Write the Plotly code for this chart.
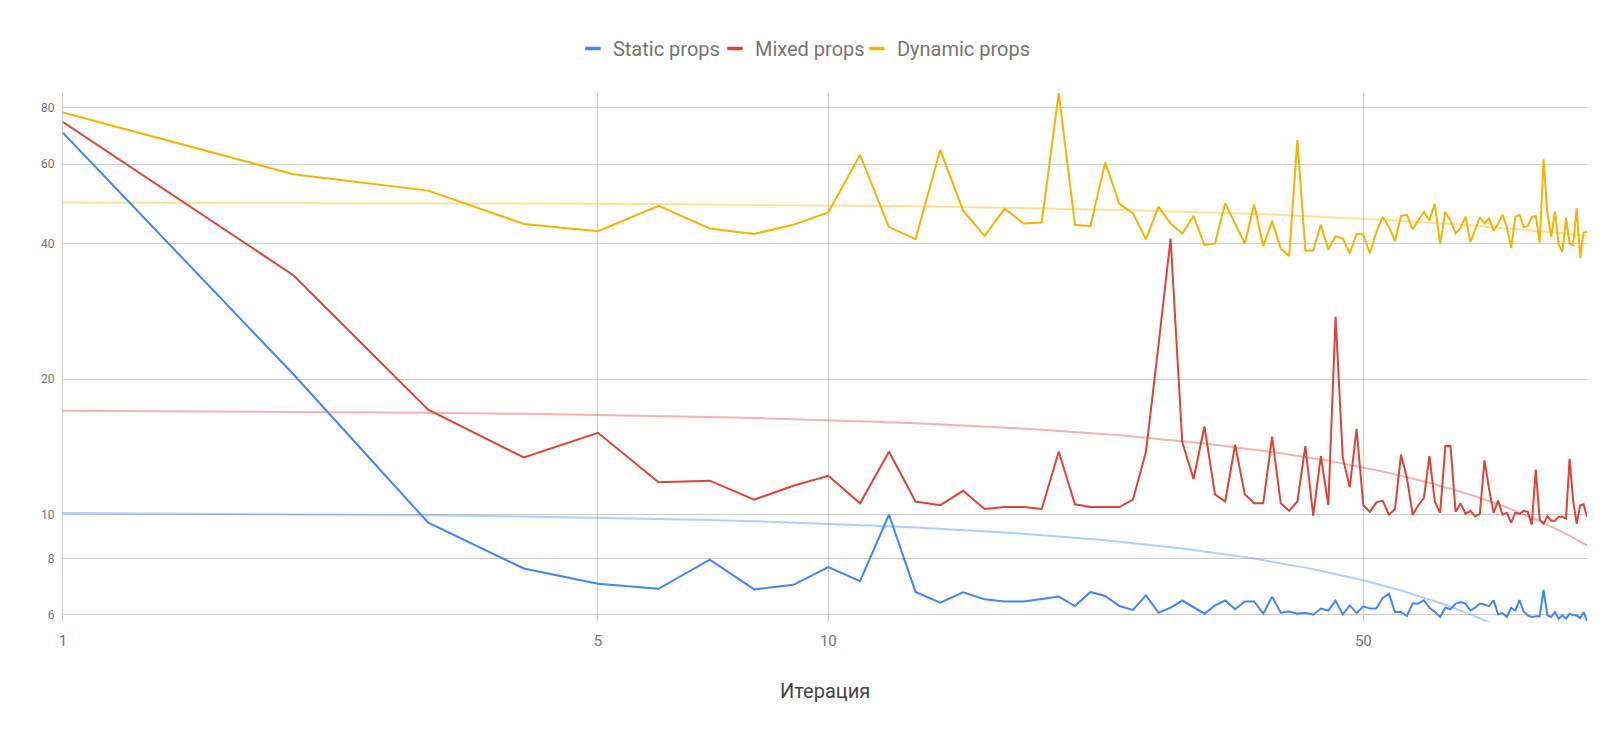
import numpy as np
import plotly.graph_objects as go

iterations = list(range(1, 99))

static_props = [
    70.4, 20.5, 9.6, 7.6, 7.03, 6.85, 7.95, 6.83, 6.99, 7.65,
    7.12, 10.0, 6.74, 6.38, 6.73, 6.49, 6.42, 6.42, 6.50, 6.58,
    6.27, 6.74, 6.60, 6.27, 6.15, 6.62, 6.06, 6.22, 6.45, 6.22,
    6.03, 6.29, 6.45, 6.17, 6.42, 6.42, 6.03, 6.58, 6.06, 6.10,
    6.03, 6.06, 6.00, 6.19, 6.13, 6.45, 6.01, 6.29, 6.05, 6.26,
    6.19, 6.19, 6.54, 6.68, 6.08, 6.08, 5.96, 6.35, 6.35, 6.46,
    6.22, 6.08, 5.93, 6.22, 6.17, 6.35, 6.40, 6.35, 6.13, 6.22,
    6.35, 6.32, 6.27, 6.46, 6.01, 6.05, 5.93, 6.22, 6.13, 6.46,
    6.10, 5.98, 5.93, 5.95, 5.95, 6.81, 5.98, 5.93, 6.08, 5.88,
    5.98, 5.88, 6.03, 5.98, 5.98, 5.90, 6.08, 5.81,
]

mixed_props = [
    74.4, 34.0, 17.1, 13.4, 15.2, 11.8, 11.9, 10.8, 11.6, 12.2,
    10.6, 13.8, 10.7, 10.5, 11.3, 10.3, 10.4, 10.4, 10.3, 13.8,
    10.55, 10.4, 10.4, 10.4, 10.8, 13.8, 23.8, 41.0, 14.5, 12.0,
    15.7, 11.1, 10.7, 14.3, 11.1, 10.6, 10.6, 14.9, 10.6, 10.2,
    10.7, 14.2, 9.95, 13.5, 10.5, 27.5, 13.4, 11.5, 15.5, 10.5,
    10.15, 10.65, 10.75, 10.0, 10.3, 13.6, 12.1, 10.0, 10.5, 10.9,
    13.5, 10.7, 10.1, 14.2, 14.2, 10.15, 10.6, 10.05, 10.2, 9.92,
    10.05, 13.2, 11.4, 10.1, 10.75, 10.0, 10.1, 9.6, 10.1, 10.05,
    10.2, 10.15, 9.5, 12.6, 9.75, 9.55, 9.93, 9.7, 9.7, 9.9,
    9.9, 9.8, 13.3, 10.75, 9.55, 10.5, 10.55, 9.9,
]

dynamic_props = [
    78.1, 57.0, 52.4, 44.2, 42.6, 48.5, 43.2, 42.0, 44.0, 46.9,
    62.9, 43.5, 40.9, 64.5, 47.3, 41.6, 47.8, 44.3, 44.5, 86.2,
    44.0, 43.7, 60.5, 49.0, 46.7, 40.9, 48.3, 44.3, 42.1, 46.0,
    39.7, 40.0, 49.1, 44.3, 40.0, 48.8, 39.5, 44.9, 39.0, 37.5,
    67.9, 38.6, 38.6, 44.0, 38.8, 41.5, 41.0, 38.0, 42.0, 41.9,
    38.0, 42.4, 45.8, 43.6, 40.5, 46.0, 46.3, 43.0, 44.9, 47.0,
    45.0, 48.9, 39.9, 47.0, 44.9, 42.1, 43.3, 45.9, 40.3, 43.0,
    45.7, 44.3, 45.4, 42.7, 44.3, 46.3, 43.5, 39.1, 45.8, 46.3,
    43.5, 43.7, 45.8, 46.0, 40.2, 61.5, 46.6, 41.4, 47.1, 39.8,
    38.3, 45.6, 40.0, 39.7, 47.9, 37.1, 42.3, 42.4,
]

series_names = ["Static props", "Mixed props", "Dynamic props"]
series_values = [static_props, mixed_props, dynamic_props]
series_colors = ["#4285F4", "#DB4437", "#F4B400"]
trend_colors = ["rgba(66,133,244,0.4)", "rgba(219,68,55,0.4)", "rgba(244,180,0,0.4)"]
legend_widths = [97, 97, 150]

y_ticks = [6, 8, 10, 20, 40, 60, 80]
x_ticks = [1, 5, 10, 50]
x_title = "Итерация"

fig = go.Figure()

x_arr = np.array(iterations, dtype=float)

# linear trendlines (as Google Charts computes them)
for vals, tc in zip(series_values, trend_colors):
    b, a = np.polyfit(x_arr, np.array(vals), 1)
    fig.add_trace(go.Scatter(
        x=iterations, y=list(a + b * x_arr), mode="lines",
        line=dict(color=tc, width=2), showlegend=False, hoverinfo="skip",
    ))

for name, vals, col in zip(series_names, series_values, series_colors):
    fig.add_trace(go.Scatter(
        x=iterations, y=vals, mode="lines", name=name,
        line=dict(color=col, width=2), showlegend=False,
    ))

# legend entries (short thick dash like the original)
for name, col, lw in zip(series_names, series_colors, legend_widths):
    fig.add_trace(go.Scatter(
        x=[None], y=[None], mode="markers", name=name, legendwidth=lw,
        marker=dict(symbol="line-ew", size=11, color=col,
                    line=dict(color=col, width=3.5)),
    ))

fig.update_layout(
    width=1624, height=739,
    margin=dict(l=63, r=37, t=93, b=117),
    paper_bgcolor="white", plot_bgcolor="white",
    font=dict(family="Roboto, Arial, sans-serif", color="#757575"),
    showlegend=True,
    legend=dict(
        orientation="h", x=0.3528, xanchor="left", xref="container",
        y=1 - 48.5 / 739, yanchor="middle", yref="container",
        font=dict(size=20, color="#757575", family="Roboto"),
        itemwidth=30, entrywidthmode="pixels",
        bgcolor="rgba(0,0,0,0)",
    ),
    xaxis=dict(
        type="log", range=[0, np.log10(98)],
        tickvals=x_ticks, ticktext=[str(v) for v in x_ticks],
        showgrid=True, gridcolor="#cccccc", gridwidth=1,
        zeroline=False, showline=False, ticks="",
        tickfont=dict(size=15, color="#757575", family="Roboto"),
        ticklabelstandoff=8,
    ),
    yaxis=dict(
        type="log", range=[np.log10(5.78), np.log10(86.3)],
        tickvals=y_ticks, ticktext=[str(v) for v in y_ticks],
        showgrid=True, gridcolor="#cccccc", gridwidth=1,
        zeroline=False, showline=True, linecolor="#cccccc", linewidth=1,
        ticks="", tickfont=dict(size=12, color="#757575", family="Roboto"),
        ticklabelstandoff=5,
    ),
    annotations=[dict(
        text=x_title, x=0.5, xref="paper", y=-(691 - 622) / 529, yref="paper",
        xanchor="center", yanchor="middle", showarrow=False,
        font=dict(size=20, color="#444444", family="Roboto"),
    )],
)

fig.write_html("out.html")
